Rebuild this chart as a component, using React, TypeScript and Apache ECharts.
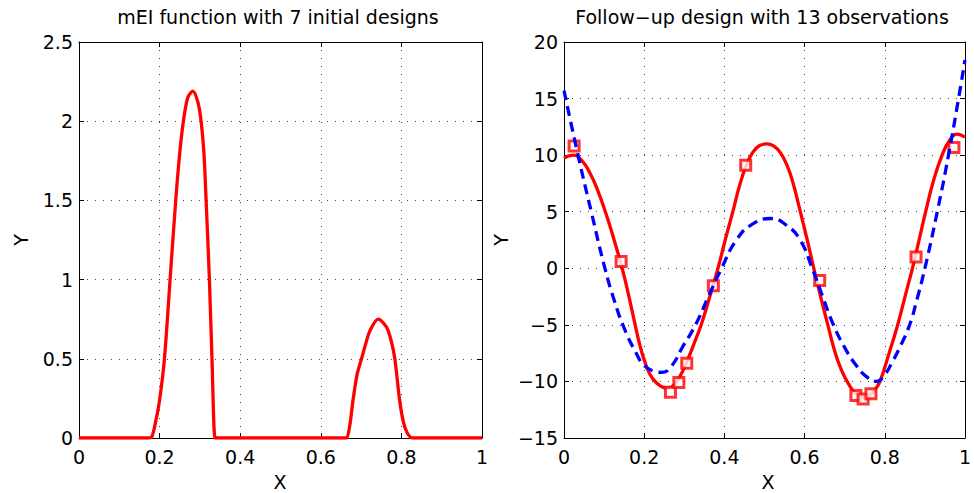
import React, { useEffect, useRef } from "react";
import * as echarts from "echarts";

// Left panel: mEI function
const meiX = [0, 0.16, 0.172, 0.181, 0.19, 0.2, 0.212, 0.226, 0.24, 0.25, 0.259, 0.27, 0.2824, 0.295, 0.303, 0.31, 0.3154, 0.3236, 0.33, 0.3376, 0.342, 0.35, 0.65, 0.658, 0.664, 0.672, 0.68, 0.69, 0.701, 0.712, 0.7225, 0.7424, 0.763, 0.774, 0.7837, 0.7955, 0.805, 0.815, 0.8275, 0.835, 0.845, 1];
const meiY = [0, 0, 0, 0.01, 0.1, 0.24, 0.5, 1.0, 1.5, 1.8, 2.0, 2.15, 2.19, 2.12, 2.0, 1.8, 1.5, 1.0, 0.5, 0, 0, 0, 0, 0, 0, 0.08, 0.24, 0.4, 0.5, 0.6, 0.68, 0.75, 0.7, 0.62, 0.5, 0.24, 0.1, 0.03, 0, 0, 0, 0];

// Right panel: follow-up design
const obsX = [0.0252, 0.1425, 0.2655, 0.2865, 0.3062, 0.3725, 0.4532, 0.6377, 0.728, 0.746, 0.7656, 0.878, 0.9725];
const obsY = [10.8, 0.6, -10.95, -10.1, -8.4, -1.55, 9.1, -1.07, -11.25, -11.55, -11.1, 1.0, 10.68];

const fitX = [0, 0.023, 0.045, 0.065, 0.085, 0.104, 0.125, 0.145, 0.16, 0.175, 0.19, 0.205, 0.22, 0.24, 0.258, 0.275, 0.29, 0.306, 0.325, 0.343, 0.362, 0.384, 0.402, 0.421, 0.437, 0.4536, 0.47, 0.488, 0.506, 0.525, 0.54, 0.555, 0.57, 0.588, 0.606, 0.623, 0.64, 0.658, 0.675, 0.692, 0.711, 0.728, 0.746, 0.765, 0.778, 0.788, 0.81, 0.833, 0.852, 0.869, 0.885, 0.902, 0.922, 0.943, 0.96, 0.98, 1];
const fitY = [9.75, 10.0, 9.5, 8.4, 6.8, 4.9, 2.5, 0, -2.2, -4.6, -6.9, -8.6, -9.7, -10.4, -10.6, -10.3, -9.5, -8.3, -6.6, -4.9, -2.7, 0, 2.5, 5, 7.2, 9.0, 10.2, 10.85, 11.0, 10.75, 10.2, 9.2, 7.7, 5.2, 2.6, 0, -2.5, -5, -7.3, -9.0, -10.3, -11.1, -11.45, -11.15, -10.6, -10, -7.6, -4.9, -2.3, 0, 2.4, 5, 7.8, 10, 11.2, 11.85, 11.6];

const trueX = [0, 0.035, 0.068, 0.102, 0.125, 0.149, 0.18, 0.2, 0.225, 0.245, 0.267, 0.295, 0.328, 0.36, 0.393, 0.43, 0.47, 0.515, 0.555, 0.589, 0.619, 0.645, 0.672, 0.7, 0.727, 0.755, 0.78, 0.8, 0.817, 0.84, 0.862, 0.88, 0.9, 0.931, 0.959, 0.984, 1];
const trueY = [15.7, 10, 5, 0, -2.8, -5.2, -7.5, -8.6, -9.1, -9.2, -8.7, -7, -5, -2.5, 0, 2.5, 3.9, 4.4, 3.8, 2.5, 0, -2.5, -5, -7, -8.5, -9.6, -10.0, -9.4, -8.4, -6.8, -5, -2.8, 0, 5, 10, 15, 18.4];

const xTickInterval = 0.2;
const leftYRange = [0, 2.5, 0.5];
const rightYRange = [-15, 20, 5];

const FONT = "DejaVu Sans";

const pairs = (xs: number[], ys: number[]) => xs.map((x, i) => [x, ys[i]]);

export default function App() {
  const ref = useRef<HTMLDivElement>(null);
  useEffect(() => {
    if (!ref.current) return;
    const chart = echarts.init(ref.current, undefined, { renderer: "svg" });
    const splitLine = { show: true, lineStyle: { color: "#444", width: 1, type: [1, 7] as any } };
    const axisLine = { show: true, onZero: false, lineStyle: { color: "#000", width: 1 } };
    const axisTick = { show: true, inside: true, length: 5, lineStyle: { color: "#000" } };
    const labelStyle = { color: "#000", fontSize: 19, fontFamily: FONT };
    const fmt = (v: number) => {
      const r = +v.toFixed(2);
      return r < 0 ? "\u2212" + Math.abs(r) : String(r);
    };
    const mkX = (g: number) => [
      { type: "value", gridIndex: g, position: "bottom", min: 0, max: 1, interval: xTickInterval, axisLine, axisTick, splitLine, axisLabel: { ...labelStyle, margin: 9, formatter: fmt } },
      { type: "value", gridIndex: g, position: "top", min: 0, max: 1, interval: xTickInterval, axisLine, axisTick, splitLine: { show: false }, axisLabel: { show: false } },
    ];
    const mkY = (g: number, r: number[]) => [
      { type: "value", gridIndex: g, position: "left", min: r[0], max: r[1], interval: r[2], axisLine, axisTick, splitLine, axisLabel: { ...labelStyle, margin: 6, formatter: fmt } },
      { type: "value", gridIndex: g, position: "right", min: r[0], max: r[1], interval: r[2], axisLine, axisTick, splitLine: { show: false }, axisLabel: { show: false } },
    ];
    const txt = (text: string, x: number, y: number, rot = 0) => ({
      type: "text",
      x,
      y,
      rotation: rot,
      style: { text, fill: "#000", fontSize: 19, fontFamily: FONT, align: "center", verticalAlign: "middle" },
    });
    chart.setOption({
      animation: false,
      backgroundColor: "#fff",
      grid: [
        { left: 79, top: 42, width: 403, height: 396 },
        { left: 564, top: 42, width: 409, height: 396 },
      ],
      xAxis: [...mkX(0), ...mkX(1)],
      yAxis: [...mkY(0, leftYRange), ...mkY(1, rightYRange)],
      graphic: [
        txt("mEI function with 7 initial designs", 278, 17),
        txt("Follow\u2212up design with 13 observations", 762, 17),
        txt("X", 280, 482),
        txt("X", 768, 482),
        txt("Y", 21, 240, Math.PI / 2),
        txt("Y", 501, 240, Math.PI / 2),
      ],
      series: [
        {
          type: "line", xAxisIndex: 0, yAxisIndex: 0, data: pairs(meiX, meiY), showSymbol: false,
          smooth: 0.3, lineStyle: { color: "#ff0000", width: 3.3 }, z: 3,
        },
        {
          type: "line", xAxisIndex: 2, yAxisIndex: 2, data: pairs(fitX, fitY), showSymbol: false,
          smooth: 0.5, lineStyle: { color: "#ff0000", width: 3.3 }, z: 3,
        },
        {
          type: "scatter", xAxisIndex: 2, yAxisIndex: 2, data: pairs(obsX, obsY), symbol: "rect", symbolSize: 10,
          itemStyle: { color: "#fff", borderColor: "#ff0000", borderWidth: 3 }, z: 4,
        },
        {
          type: "line", xAxisIndex: 2, yAxisIndex: 2, data: pairs(trueX, trueY), showSymbol: false,
          smooth: 0.5, lineStyle: { color: "#0000ff", width: 3.3, type: [10, 6] as any }, z: 5,
        },
      ],
    } as any);
    return () => chart.dispose();
  }, []);
  return <div ref={ref} style={{ position: "fixed", left: 0, top: 0, width: 974, height: 493, background: "#fff" }} />;
}
